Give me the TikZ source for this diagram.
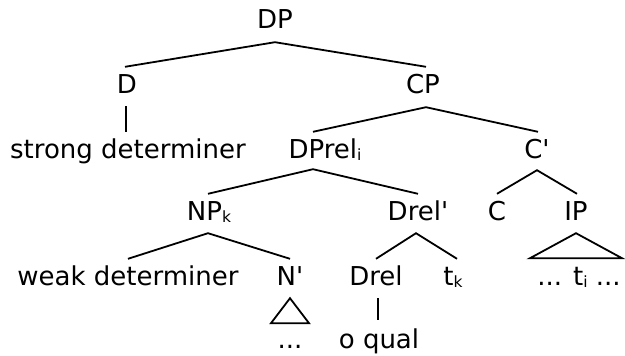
\documentclass[tikz,border=0pt]{standalone}
\usepackage{fontspec}
\newfontfamily\treefont{DejaVu Sans}
\newcommand{\sbs}[1]{\raisebox{-2pt}{\fontsize{15.5}{15.5}\selectfont #1}}
\tikzset{
  lbl/.style={font=\treefont\fontsize{26}{30}\selectfont, inner sep=0pt, anchor=base, text height=18pt, text depth=0pt},
  edge/.style={line width=1.8pt, line cap=butt, line join=miter}
}
\begin{document}
\begin{tikzpicture}[x=1pt,y=-1pt]
\useasboundingbox (0,0) rectangle (625,356);
% nodes
\node[lbl] (dp) at (275,28) {DP};
\node[lbl] (d) at (127,93) {D};
\node[lbl] (cp) at (423,93) {CP};
\node[lbl] (sd) at (128,158) {strong determiner};
\node[lbl] (dprel) at (325,158) {DPrel\sbs{i}};
\node[lbl] (cbar) at (537,158) {C'};
\node[lbl] (np) at (209,220) {NP\sbs{k}};
\node[lbl] (drelbar) at (418,220) {Drel'};
\node[lbl] (c) at (497,220) {C};
\node[lbl] (ip) at (576,220) {IP};
\node[lbl] (wd) at (128,285) {weak determiner};
\node[lbl] (nbar) at (290,285) {N'};
\node[lbl] (drel) at (376,285) {Drel};
\node[lbl] (tk) at (453,285) {t\sbs{k}};
\node[lbl] (ti) at (579,285) {... t\sbs{i} ...};
\node[lbl] (dots) at (290,348) {...};
\node[lbl] (oq) at (379,348) {o qual};
% connectors
\draw[edge] ([xshift=-2pt,yshift=8pt]d.north) -- ([yshift=-14pt]dp.south) -- ([xshift=3pt,yshift=8pt]cp.north);
\draw[edge] ([xshift=-1pt,yshift=-13pt]d.south) -- ([xshift=-2pt,yshift=8pt]sd.north);
\draw[edge] ([xshift=-12pt,yshift=8pt]dprel.north) -- ([xshift=3pt,yshift=-14pt]cp.south) -- ([xshift=1pt,yshift=8pt]cbar.north);
\draw[edge] ([xshift=-1pt,yshift=8pt]np.north) -- ([xshift=-12pt,yshift=-11pt]dprel.south) -- ([yshift=8pt]drelbar.north);
\draw[edge] ([yshift=8pt]c.north) -- ([yshift=-12pt]cbar.south) -- ([xshift=1pt,yshift=8pt]ip.north);
\draw[edge] ([yshift=8pt]wd.north) -- ([xshift=-1pt,yshift=-13pt]np.south) -- ([yshift=8pt]nbar.north);
\draw[edge] ([yshift=8pt]drel.north) -- ([xshift=-2pt,yshift=-13pt]drelbar.south) -- ([xshift=4pt,yshift=8pt]tk.north);
\draw[edge] ([yshift=-13pt]ip.south) -- ++(-46,25) -- ++(92,0) -- cycle;
\draw[edge] ([yshift=-13pt]nbar.south) -- ++(-19,25) -- ++(38,0) -- cycle;
\draw[edge] ([xshift=2pt,yshift=-13pt]drel.south) -- ([xshift=-1pt,yshift=10pt]oq.north);
\end{tikzpicture}
\end{document}
